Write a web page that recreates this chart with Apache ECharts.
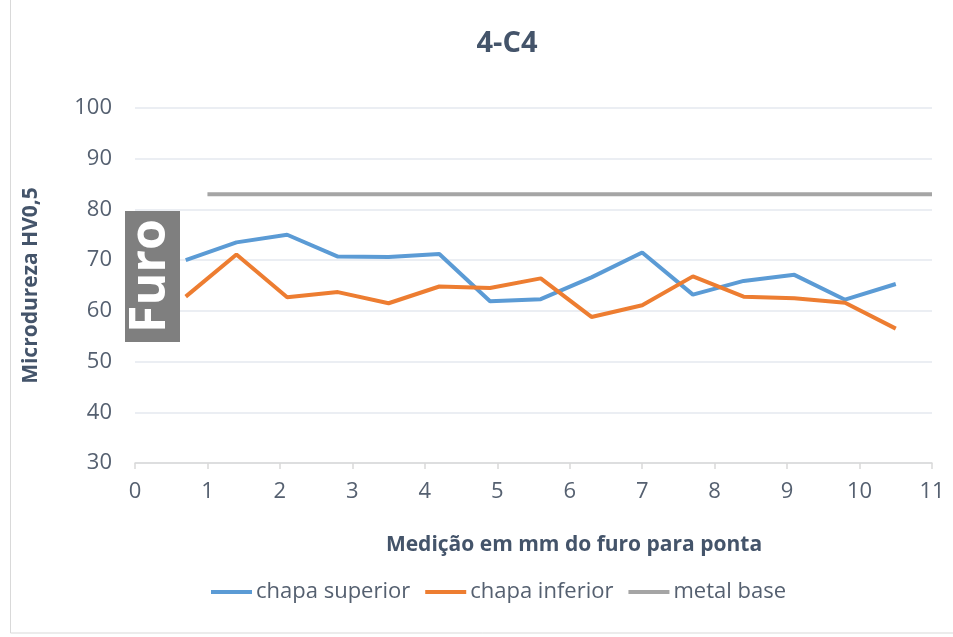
<!DOCTYPE html>
<html>
<head>
<meta charset="utf-8">
<script src="https://cdn.jsdelivr.net/npm/echarts@6/dist/echarts.min.js"></script>
<style>
  html, body { margin: 0; padding: 0; background: #ffffff; }
  #chart { width: 953px; height: 637px; }
</style>
</head>
<body>
<div id="chart"></div>
<script>
// Measurement positions (mm from the hole towards the tip)
var positions = [0.7, 1.4, 2.1, 2.8, 3.5, 4.2, 4.9, 5.6, 6.3, 7.0, 7.7, 8.4, 9.1, 9.8, 10.5];
// Microhardness HV0,5 readings
var chapaSuperior = [70.0, 73.5, 75.0, 70.7, 70.6, 71.2, 61.9, 62.3, 66.6, 71.5, 63.2, 65.9, 67.1, 62.2, 65.3];
var chapaInferior = [62.8, 71.1, 62.7, 63.7, 61.5, 64.8, 64.5, 66.4, 58.8, 61.1, 66.8, 62.8, 62.5, 61.6, 56.5];
var basePositions = [1, 2, 3, 4, 5, 6, 7, 8, 9, 10, 11];
var metalBase = [83, 83, 83, 83, 83, 83, 83, 83, 83, 83, 83];

var seriesNames = ['chapa superior', 'chapa inferior', 'metal base'];

function pairs(xs, ys) {
  return xs.map(function (x, i) { return [x, ys[i]]; });
}

var FONT = '"Open Sans", "Noto Sans", sans-serif';
var TEXT = '#556070';

var chart = echarts.init(document.getElementById('chart'), null, { renderer: 'canvas' });

chart.setOption({
  backgroundColor: '#ffffff',
  animation: false,
  title: {
    text: '4-C4',
    left: 502,
    top: 24,
    textAlign: 'center',
    textStyle: { fontFamily: FONT, fontSize: 29, fontWeight: 'bold', color: '#44546a' }
  },
  grid: { left: 135, right: 21, top: 108, bottom: 174, containLabel: false },
  xAxis: {
    type: 'value',
    min: 0,
    max: 11,
    interval: 1,
    name: 'Medição em mm do furo para ponta',
    nameLocation: 'middle',
    nameGap: 72,
    nameTextStyle: { fontFamily: FONT, fontSize: 21, fontWeight: 'bold', color: '#44546a', padding: [0, 0, 0, 81] },
    axisLine: { show: true, lineStyle: { color: '#d9d9d9', width: 1.5 } },
    axisTick: { show: true, length: 6, lineStyle: { color: '#d9d9d9', width: 1.5 } },
    axisLabel: { fontFamily: FONT, fontSize: 22, color: TEXT, margin: 18 },
    splitLine: { show: false }
  },
  yAxis: {
    type: 'value',
    min: 30,
    max: 100,
    interval: 10,
    name: 'Microdureza HV0,5',
    nameLocation: 'middle',
    nameGap: 93,
    nameTextStyle: { fontFamily: FONT, fontSize: 21, fontWeight: 'bold', color: '#44546a' },
    axisLine: { show: false },
    axisTick: { show: false },
    axisLabel: { fontFamily: FONT, fontSize: 22, color: TEXT, margin: 23 },
    splitLine: { show: true, lineStyle: { color: '#e4e8ef', width: 1.5 } }
  },
  legend: {
    left: 206,
    top: 576,
    itemWidth: 41,
    itemHeight: 4,
    itemGap: 15,
    icon: 'rect',
    textStyle: { fontFamily: FONT, fontSize: 22, color: TEXT, padding: [0, 0, 0, -1] },
    data: seriesNames
  },
  series: [
    {
      name: seriesNames[0],
      type: 'line',
      data: pairs(positions, chapaSuperior),
      symbol: 'none',
      lineStyle: { color: '#5b9bd5', width: 4 },
      itemStyle: { color: '#5b9bd5' },
      z: 3
    },
    {
      name: seriesNames[1],
      type: 'line',
      data: pairs(positions, chapaInferior),
      symbol: 'none',
      lineStyle: { color: '#ed7d31', width: 4 },
      itemStyle: { color: '#ed7d31' },
      z: 4
    },
    {
      name: seriesNames[2],
      type: 'line',
      data: pairs(basePositions, metalBase),
      symbol: 'none',
      lineStyle: { color: '#a5a5a5', width: 4 },
      itemStyle: { color: '#a5a5a5' },
      z: 2
    }
  ],
  graphic: [
    {
      type: 'rect',
      shape: { x: 10.5, y: -2, width: 960, height: 635 },
      style: { fill: 'none', stroke: '#d9d9d9', lineWidth: 1 },
      silent: true,
      z: 0
    },
    {
      type: 'rect',
      shape: { x: 125, y: 211, width: 55, height: 131 },
      style: { fill: '#7f7f7f' },
      silent: true,
      z: 10
    },
    {
      type: 'text',
      x: 151,
      y: 276,
      rotation: Math.PI / 2,
      style: {
        text: 'Furo',
        fontFamily: FONT,
        fontSize: 50,
        fontWeight: 'bold',
        fill: '#ffffff',
        textAlign: 'center',
        textVerticalAlign: 'middle'
      },
      silent: true,
      z: 11
    }
  ]
});
</script>
</body>
</html>
